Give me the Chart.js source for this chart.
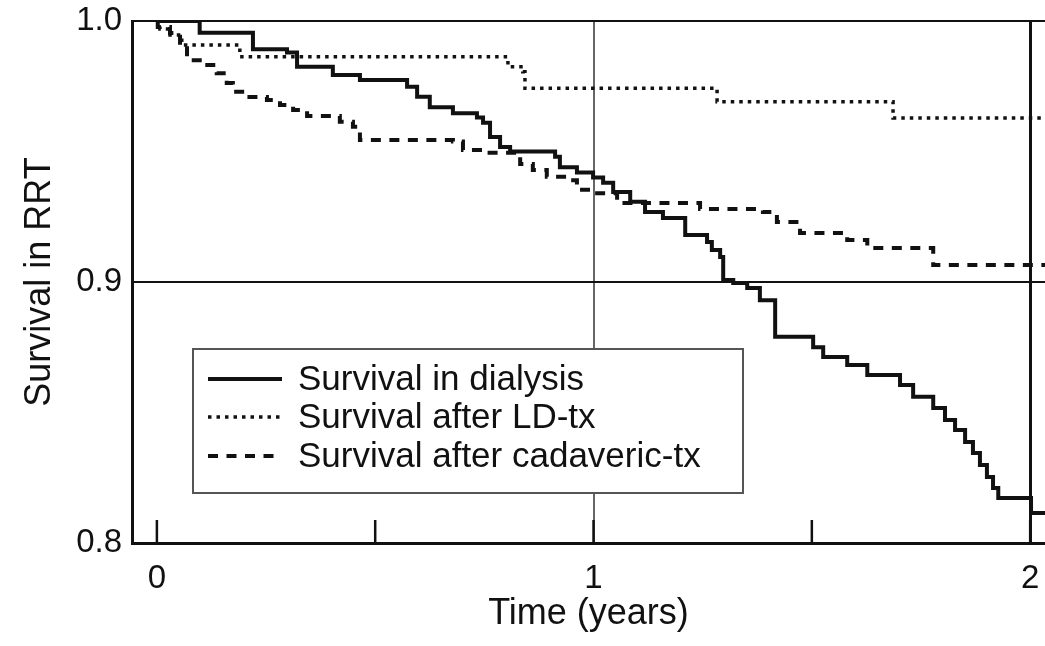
<!DOCTYPE html>
<html>
<head>
<meta charset="utf-8">
<title>Survival in RRT</title>
<script src="https://cdn.jsdelivr.net/npm/chart.js@4.4.1/dist/chart.umd.min.js"></script>
<style>
  html, body { margin: 0; padding: 0; background: #fff; }
  #wrap { width: 1045px; height: 646px; position: relative; }
</style>
</head>
<body>
<div id="wrap"><canvas id="chart"></canvas></div>
<script>
// Time in years, survival after each step (Kaplan-Meier style)
const dialysisTime = [0, 0.098, 0.22, 0.298, 0.321, 0.403, 0.465, 0.573, 0.596, 0.625, 0.678, 0.733, 0.747,
  0.763, 0.786, 0.809, 0.912, 0.923, 0.962, 0.999, 1.022, 1.045, 1.084, 1.118, 1.159, 1.21, 1.26, 1.271,
  1.29, 1.297, 1.32, 1.352, 1.381, 1.416, 1.503, 1.526, 1.581, 1.627, 1.702, 1.732, 1.778, 1.805, 1.828,
  1.851, 1.869, 1.885, 1.901, 1.915, 1.927, 2.002, 2.04];
const dialysisSurv = [1.0, 0.9955, 0.9892, 0.9879, 0.9825, 0.9793, 0.9774, 0.9748, 0.971, 0.967, 0.9647, 0.963, 0.961,
  0.9556, 0.9517, 0.950, 0.948, 0.944, 0.942, 0.940, 0.938, 0.9345, 0.9307, 0.9268, 0.9245, 0.918, 0.9153, 0.9123,
  0.9096, 0.9008, 0.8996, 0.8977, 0.893, 0.879, 0.875, 0.8713, 0.8682, 0.8644, 0.8605, 0.856, 0.8517, 0.8471, 0.8433,
  0.8387, 0.8345, 0.8299, 0.8253, 0.8211, 0.8172, 0.8115, 0.8115];

const ldTime = [0, 0.007, 0.025, 0.057, 0.19, 0.804, 0.838, 0.843, 1.283, 1.686, 2.04];
const ldSurv = [1.0, 0.9969, 0.9946, 0.9908, 0.9863, 0.9825, 0.9806, 0.9742, 0.9691, 0.9628, 0.9628];

const cadTime = [0, 0.002, 0.03, 0.053, 0.069, 0.105, 0.137, 0.16, 0.174, 0.206, 0.252, 0.282, 0.312, 0.344,
  0.419, 0.449, 0.465, 0.678, 0.701, 0.74, 0.832, 0.861, 0.893, 0.946, 0.962, 0.999, 1.054, 1.244, 1.388,
  1.42, 1.473, 1.581, 1.627, 1.778, 2.04];
const cadSurv = [1.0, 0.9977, 0.9954, 0.9908, 0.985, 0.9831, 0.980, 0.9762, 0.9729, 0.9709, 0.9697, 0.9678, 0.9659, 0.9636,
  0.9614, 0.9595, 0.9544, 0.9538, 0.9506, 0.9495, 0.9452, 0.9429, 0.9403, 0.939, 0.9353, 0.934, 0.9303, 0.928, 0.9268,
  0.923, 0.9188, 0.9161, 0.913, 0.9065, 0.9065];

const seriesLabels = ['Survival in dialysis', 'Survival after LD-tx', 'Survival after cadaveric-tx'];
const xTicks = [0, 0.5, 1, 1.5, 2];
const xTickLabels = ['0', '', '1', '', '2'];
const yTicks = [0.8, 0.9, 1.0];
const yTickLabels = ['0.8', '0.9', '1.0'];

const FONT = 'Liberation Sans, Arial, Helvetica, sans-serif';
const INK = '#111';

/**
 * Zip two arrays into {x, y} points
 */
const toPoints = (xs, ys) => xs.map((x, i) => ({x: x, y: ys[i]}));

/**
 * Short inward tick marks on the time axis
 */
const innerTicks = {
  id: 'innerTicks',
  afterDatasetsDraw(chart) {
    const {ctx, scales: {x}, chartArea} = chart;
    ctx.save();
    ctx.strokeStyle = INK;
    ctx.lineWidth = 2.5;
    xTicks.forEach(v => {
      const px = x.getPixelForValue(v);
      ctx.beginPath();
      ctx.moveTo(px, chartArea.bottom);
      ctx.lineTo(px, chartArea.bottom - 23);
      ctx.stroke();
    });
    ctx.restore();
  }
};

/**
 * Boxed legend sitting inside the plot
 */
const boxLegend = {
  id: 'boxLegend',
  afterDatasetsDraw(chart) {
    const {ctx, chartArea} = chart;
    const left = chartArea.left + 61;
    const top = chartArea.top + 328;
    const w = 550, h = 144;
    ctx.save();
    ctx.fillStyle = '#fff';
    ctx.fillRect(left, top, w, h);
    ctx.strokeStyle = '#555';
    ctx.lineWidth = 2;
    ctx.strokeRect(left, top, w, h);
    const rows = [30, 68, 107];
    chart.data.datasets.forEach((ds, i) => {
      const y = top + rows[i];
      ctx.beginPath();
      ctx.strokeStyle = ds.borderColor;
      ctx.lineWidth = ds.borderWidth;
      ctx.setLineDash(ds.borderDash || []);
      ctx.moveTo(left + 15, y);
      ctx.lineTo(left + 89, y);
      ctx.stroke();
      ctx.setLineDash([]);
      ctx.fillStyle = INK;
      ctx.font = '35px ' + FONT;
      ctx.textBaseline = 'middle';
      ctx.fillText(ds.label, left + 105, y + 1);
    });
    ctx.restore();
  }
};

new Chart(document.getElementById('chart'), {
  type: 'line',
  data: {
    datasets: [
      {
        label: seriesLabels[0],
        data: toPoints(dialysisTime, dialysisSurv),
        stepped: true,
        borderColor: INK,
        borderWidth: 4,
        pointRadius: 0
      },
      {
        label: seriesLabels[1],
        data: toPoints(ldTime, ldSurv),
        stepped: true,
        borderColor: INK,
        borderWidth: 3.5,
        borderDash: [3.5, 5],
        pointRadius: 0
      },
      {
        label: seriesLabels[2],
        data: toPoints(cadTime, cadSurv),
        stepped: true,
        borderColor: INK,
        borderWidth: 4,
        borderDash: [10, 8.5],
        pointRadius: 0
      }
    ]
  },
  options: {
    responsive: true,
    maintainAspectRatio: false,
    animation: false,
    layout: {padding: {top: 21, right: 0, left: 0, bottom: 0}},
    plugins: {
      legend: {display: false},
      tooltip: {enabled: false}
    },
    scales: {
      x: {
        type: 'linear',
        min: -0.057,
        max: 2.034,
        afterBuildTicks: scale => { scale.ticks = xTicks.map(v => ({value: v})); },
        afterFit: scale => {
          scale.height = 103;
          // let the plot run to the right edge, the last label may overhang
          scale.paddingLeft = 0;
          scale.paddingRight = 0;
        },
        border: {color: INK, width: 3},
        grid: {
          drawTicks: false,
          color: c => c.tick && c.tick.value === 1 ? '#666' : (c.tick && c.tick.value === 2 ? INK : 'rgba(0,0,0,0)'),
          lineWidth: c => c.tick && c.tick.value === 2 ? 3 : 2
        },
        ticks: {
          padding: 16,
          color: INK,
          font: {family: FONT, size: 33},
          callback: (v, i) => xTickLabels[i]
        },
        title: {
          display: true,
          text: 'Time (years)',
          color: INK,
          font: {family: FONT, size: 36},
          padding: {top: 0, bottom: 10}
        }
      },
      y: {
        min: 0.8,
        max: 1.0,
        afterBuildTicks: scale => { scale.ticks = yTicks.map(v => ({value: v})); },
        afterFit: scale => {
          scale.width = 132;
          scale.paddingTop = 0;
          scale.paddingBottom = 0;
        },
        border: {color: INK, width: 3},
        grid: {
          drawTicks: false,
          color: c => c.tick && c.tick.value > 0.85 ? INK : 'rgba(0,0,0,0)',
          lineWidth: 2
        },
        ticks: {
          padding: 10,
          color: INK,
          font: {family: FONT, size: 33},
          callback: (v, i) => yTickLabels[i]
        },
        title: {
          display: true,
          text: 'Survival in RRT',
          color: INK,
          font: {family: FONT, size: 36},
          padding: {top: 18, bottom: 0}
        }
      }
    }
  },
  plugins: [innerTicks, boxLegend]
});
</script>
</body>
</html>
